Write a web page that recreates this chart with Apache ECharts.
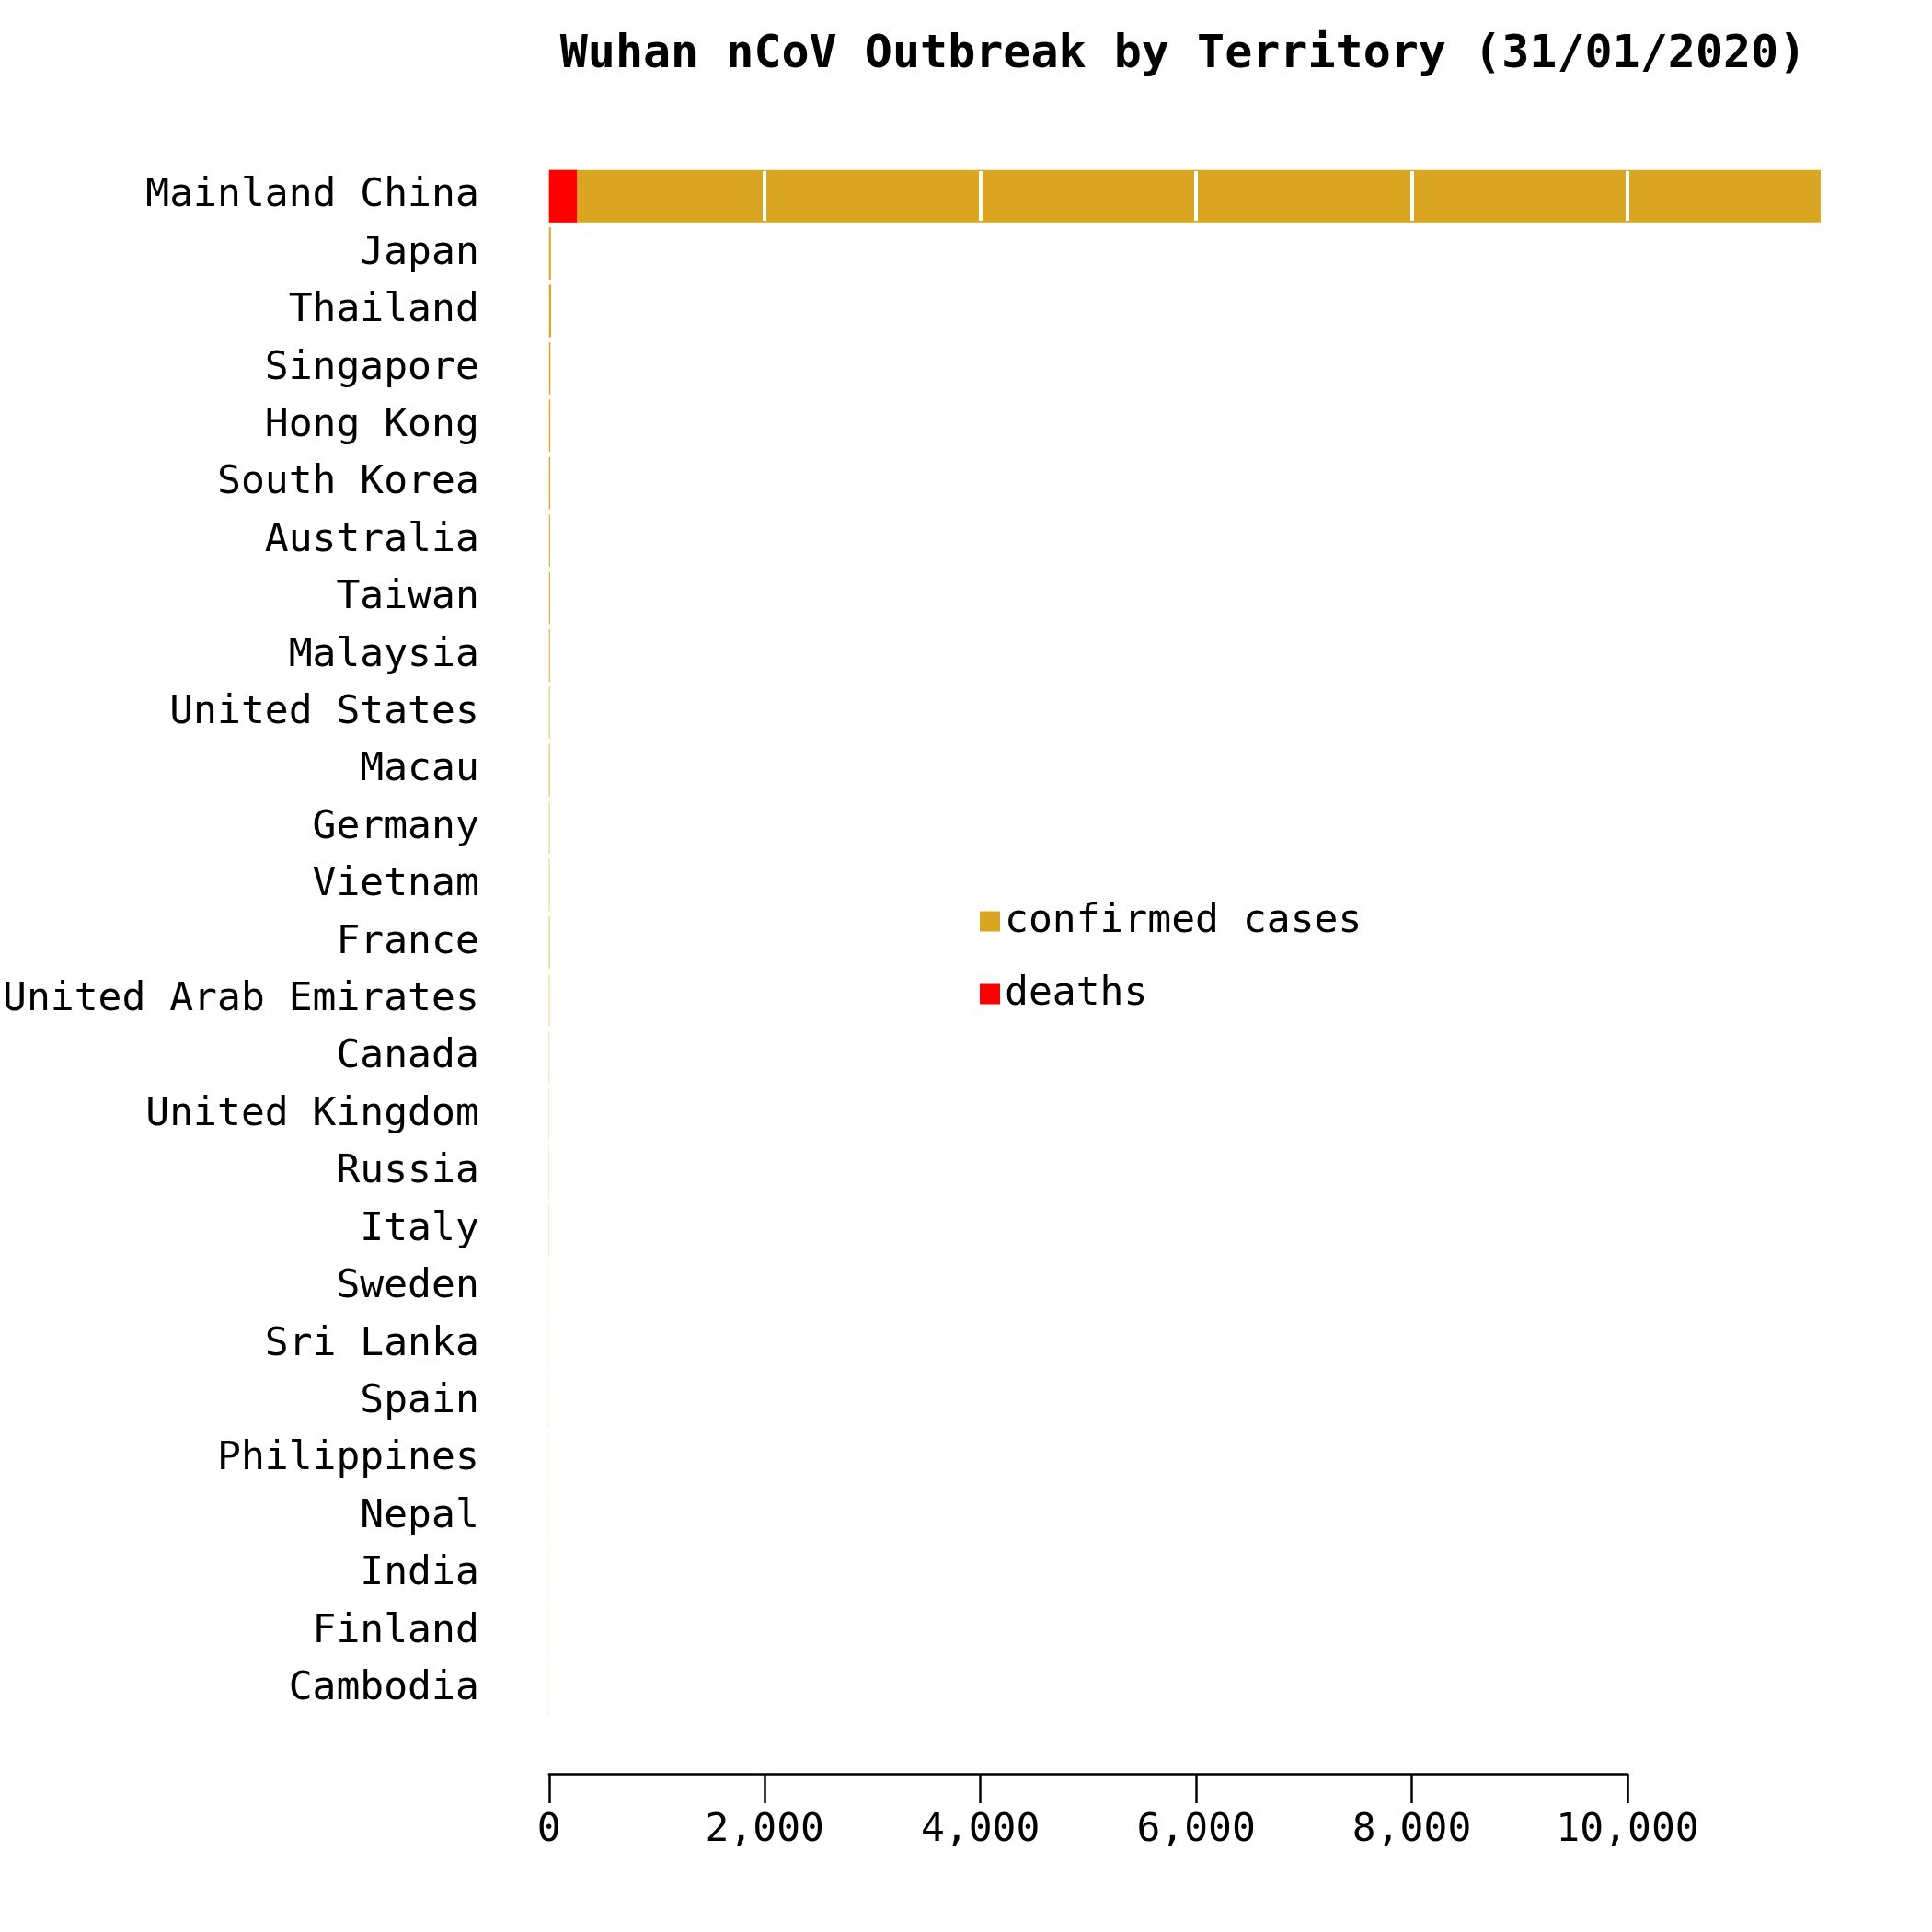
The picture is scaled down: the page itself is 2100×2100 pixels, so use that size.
<!DOCTYPE html>
<html><head><meta charset="utf-8">
<script src="https://cdn.jsdelivr.net/npm/echarts@6/dist/echarts.min.js"></script>
<style>html,body{margin:0;background:#fff}#c{width:2100px;height:2100px}</style>
</head><body><div id="c"></div>
<script>
var territories = ['Mainland China','Japan','Thailand','Singapore','Hong Kong','South Korea','Australia','Taiwan','Malaysia','United States','Macau','Germany','Vietnam','France','United Arab Emirates','Canada','United Kingdom','Russia','Italy','Sweden','Sri Lanka','Spain','Philippines','Nepal','India','Finland','Cambodia'];
var confirmed = [11791,17,19,13,12,11,9,9,8,6,7,5,5,6,4,3,2,2,2,1,1,1,1,1,1,1,1];
var deaths = [259,0,0,0,0,0,0,0,0,0,0,0,0,0,0,0,0,0,0,0,0,0,0,0,0,0,0];
var xTicks = [2000,4000,6000,8000,10000];

var font = 'DejaVu Sans Mono';
var chart = echarts.init(document.getElementById('c'));
chart.setOption({
  animation: false,
  textStyle: {fontFamily: font},
  title: {text: 'Wuhan nCoV Outbreak by Territory (31/01/2020)', left: 1281, top: 30, textAlign: 'center',
    textStyle: {fontFamily: font, fontSize: 50, fontWeight: 'bold', color: '#000'}},
  legend: {orient: 'vertical', left: 1060, top: 975, itemWidth: 22, itemHeight: 22, itemGap: 36, icon: 'rect',
    textStyle: {fontFamily: font, fontSize: 43, color: '#000'}, data: ['confirmed cases','deaths']},
  grid: {left: 587, width: 1182, top: 182, bottom: 2100 - 1867},
  xAxis: {type: 'value', min: 0, max: 10000, interval: 2000, position: 'bottom', offset: 61,
    axisLine: {show: true, lineStyle: {color: '#000', width: 2.5}},
    axisTick: {show: true, length: 32, lineStyle: {color: '#000', width: 2.5}},
    axisLabel: {fontFamily: font, fontSize: 43, color: '#000', margin: 40},
    splitLine: {show: false}},
  yAxis: {type: 'category', inverse: true, data: territories,
    axisLine: {show: false}, axisTick: {show: false},
    axisLabel: {fontFamily: font, fontSize: 43, color: '#000', margin: 76}},
  series: [
    {name: 'confirmed cases', type: 'bar', data: confirmed, clip: false, barWidth: 57,
      itemStyle: {color: '#DAA520'},
      markLine: {silent: true, symbol: 'none', label: {show: false}, z: 10,
        lineStyle: {color: '#fff', width: 4, type: 'solid'},
        data: xTicks.map(function (v) { return [{coord: [v, 0], y: 182 + 4}, {coord: [v, 0], y: 182 + 58}]; })}},
    {name: 'deaths', type: 'bar', data: deaths, clip: false, barWidth: 57, barGap: '-100%',
      itemStyle: {color: '#FF0000'}}
  ]
});
</script></body></html>
